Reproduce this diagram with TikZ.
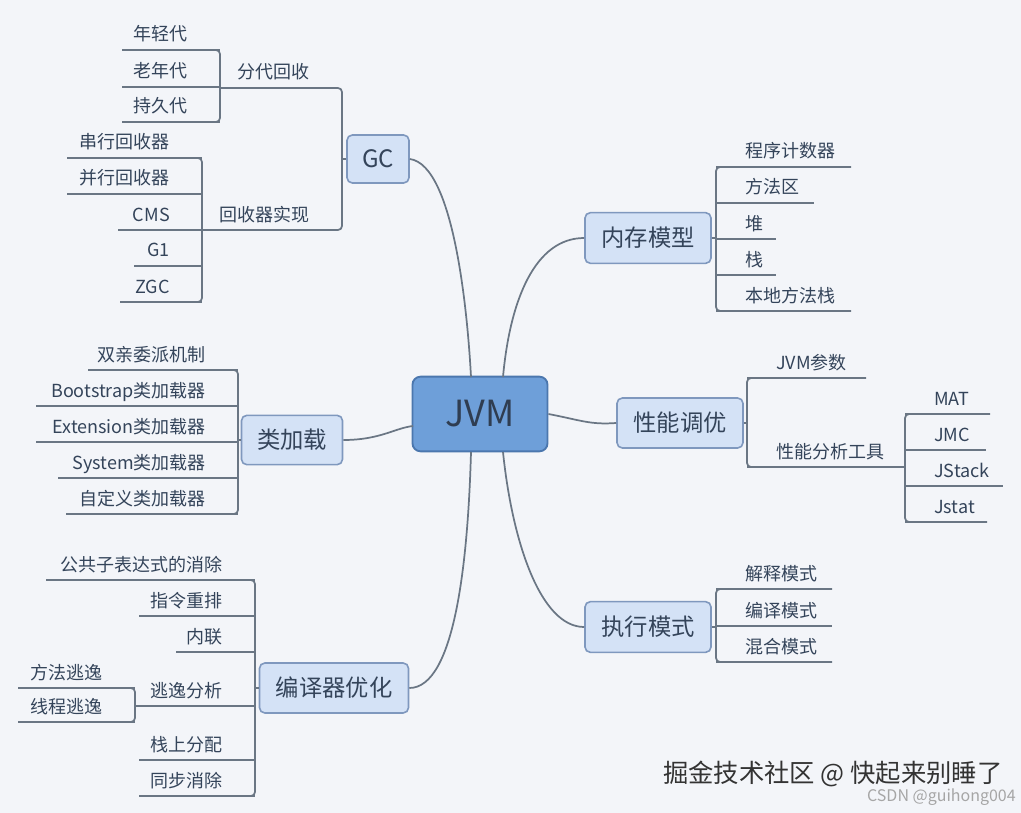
\documentclass[tikz,border=0pt]{standalone}
\usepackage{fontspec}
\setmainfont{Noto Sans CJK SC}
\definecolor{bg}{HTML}{F3F5F9}
\definecolor{ln}{HTML}{6A7684}
\definecolor{tx}{HTML}{34445A}
\definecolor{bfill}{HTML}{D4E2F6}
\definecolor{bdraw}{HTML}{7F98BE}
\definecolor{jfill}{HTML}{6E9FD9}
\definecolor{jdraw}{HTML}{4B77AE}
\tikzset{
  ln/.style={draw=ln,line width=1.3pt},
  box/.style={draw=bdraw,fill=bfill,rounded corners=4pt,line width=1.2pt,text=tx,font=\fontsize{17.5}{20}\selectfont,inner sep=0pt},
  lf/.style={text=tx,font=\fontsize{13.5}{16}\selectfont,inner sep=0pt},
}
\newcommand\LL[5]{% name, text, bracketX, y, lineLeftX
  \node[lf,anchor=base east] (#1) at (#3-32,#4-9) {#2};
  \coordinate (#1a) at (#5,#4); \coordinate (#1b) at (#3,#4);
  \draw[ln] (#1a) -- (#1b);}
\newcommand\RL[5]{% name, text, bracketX, y, lineRightX
  \node[lf,anchor=base west] (#1) at (#3+29,#4-9) {#2};
  \coordinate (#1a) at (#3,#4); \coordinate (#1b) at (#5,#4);
  \draw[ln] (#1a) -- (#1b);}
\begin{document}
\begin{tikzpicture}[x=0.75pt,y=-0.75pt]
\fill[bg] (0,0) rectangle (1021,813);
\useasboundingbox (0,0) rectangle (1021,813);
% boxes
\node[draw=jdraw,fill=jfill,rounded corners=6pt,line width=1.4pt,minimum width=101.25pt,minimum height=56pt,text=black!10!tx,font=\fontsize{27}{30}\selectfont,inner sep=0pt] (jvm) at (480,414) {JVM};
\node[box,minimum width=46.5pt,minimum height=36pt,font=\fontsize{18}{20}\selectfont] (gc) at (378,159) {GC};
\node[box,minimum width=94.5pt,minimum height=38pt] (mem) at (648,238) {内存模型};
\node[box,minimum width=94.5pt,minimum height=37.5pt] (perf) at (680,423) {性能调优};
\node[box,minimum width=75.75pt,minimum height=37pt] (cl) at (292,440) {类加载};
\node[box,minimum width=94.5pt,minimum height=38pt] (exe) at (648,627) {执行模式};
\node[box,minimum width=111.75pt,minimum height=37.5pt] (comp) at (334,688) {编译器优化};
% curves
\draw[ln] (gc.east) .. controls (455,165) and (468,320) .. (471,377);
\draw[ln] (mem.west) .. controls (535,238) and (510,300) .. (503,377);
\draw[ln] (jvm.east) .. controls (580,420) and (590,425) .. (perf.west);
\draw[ln] (cl.east) .. controls (380,440) and (395,428) .. (413,426);
\draw[ln] (exe.west) .. controls (540,627) and (512,540) .. (503,452);
\draw[ln] (comp.east) .. controls (455,688) and (468,560) .. (471,452);
% GC
\draw[ln] (gc.west) -- (342,159);
\draw[ln,rounded corners=3pt] (220,88) -- (342,88) -- (342,230) -- (202,230);
\node[lf,anchor=base east] (fd) at (310,79) {分代回收};
\node[lf,anchor=base east] (hs) at (310,221) {回收器实现};
\draw[ln,rounded corners=3pt] (122,50) -- (220,50) -- (220,122) -- (122,122);
\LL{g1}{年轻代}{220}{50}{122}
\LL{g2}{老年代}{220}{87}{122}
\LL{g3}{持久代}{220}{122}{122}
\draw[ln,rounded corners=3pt] (67,158) -- (202,158) -- (202,302) -- (120,302);
\LL{h1}{串行回收器}{202}{158}{67}
\LL{h2}{并行回收器}{202}{194}{67}
\LL{h3}{CMS}{202}{230}{118}
\LL{h4}{G1}{202}{266}{134}
\LL{h5}{ZGC}{202}{302}{120}
% class loading
\draw[ln] (cl.west) -- (238,440);
\draw[ln,rounded corners=3pt] (88,370) -- (238,370) -- (238,514) -- (66,514);
\LL{c1}{双亲委派机制}{238}{370}{88}
\LL{c2}{Bootstrap类加载器}{238}{406}{36}
\LL{c3}{Extension类加载器}{238}{442}{36}
\LL{c4}{System类加载器}{238}{478}{58}
\LL{c5}{自定义类加载器}{238}{514}{66}
% compiler
\draw[ln] (comp.west) -- (255,688);
\draw[ln,rounded corners=3pt] (46,580) -- (255,580) -- (255,796) -- (139,796);
\LL{o1}{公共子表达式的消除}{255}{580}{46}
\LL{o2}{指令重排}{255}{616}{139}
\LL{o3}{内联}{255}{652}{176}
\LL{o4}{逃逸分析}{255}{706}{135}
\LL{o5}{栈上分配}{255}{760}{139}
\LL{o6}{同步消除}{255}{796}{139}
\draw[ln,rounded corners=3pt] (18,688) -- (135,688) -- (135,722) -- (18,722);
\LL{e1}{方法逃逸}{135}{688}{18}
\LL{e2}{线程逃逸}{135}{722}{18}
% memory
\draw[ln] (mem.east) -- (716,238);
\draw[ln,rounded corners=3pt] (851,167) -- (716,167) -- (716,311) -- (851,311);
\RL{m1}{程序计数器}{716}{167}{851}
\RL{m2}{方法区}{716}{203}{814}
\RL{m3}{堆}{716}{239}{776}
\RL{m4}{栈}{716}{275}{776}
\RL{m5}{本地方法栈}{716}{311}{851}
% perf
\draw[ln] (perf.east) -- (747,423);
\draw[ln,rounded corners=3pt] (866,378) -- (747,378) -- (747,467) -- (905,467);
\RL{p1}{JVM参数}{747}{378}{866}
\RL{p2}{性能分析工具}{747}{467}{905}
\draw[ln,rounded corners=3pt] (990,414) -- (905,414) -- (905,522) -- (987,522);
\RL{t1}{MAT}{905}{414}{990}
\RL{t2}{JMC}{905}{450}{986}
\RL{t3}{JStack}{905}{486}{1003}
\RL{t4}{Jstat}{905}{522}{987}
% exec
\draw[ln] (exe.east) -- (716,627);
\draw[ln,rounded corners=3pt] (832,589) -- (716,589) -- (716,662) -- (832,662);
\RL{x1}{解释模式}{716}{589}{832}
\RL{x2}{编译模式}{716}{626}{832}
\RL{x3}{混合模式}{716}{662}{832}
% watermark
\node[anchor=base west,inner sep=0pt,text=black!80,font=\fontsize{19}{22}\selectfont] (wm) at (663,782) {掘金技术社区 @ 快起来别睡了};
\node[anchor=base east,inner sep=0pt,text=gray!70,font=\fontsize{12}{14}\selectfont] (csdn) at (1016,801) {CSDN @guihong004};
\end{tikzpicture}
\end{document}
